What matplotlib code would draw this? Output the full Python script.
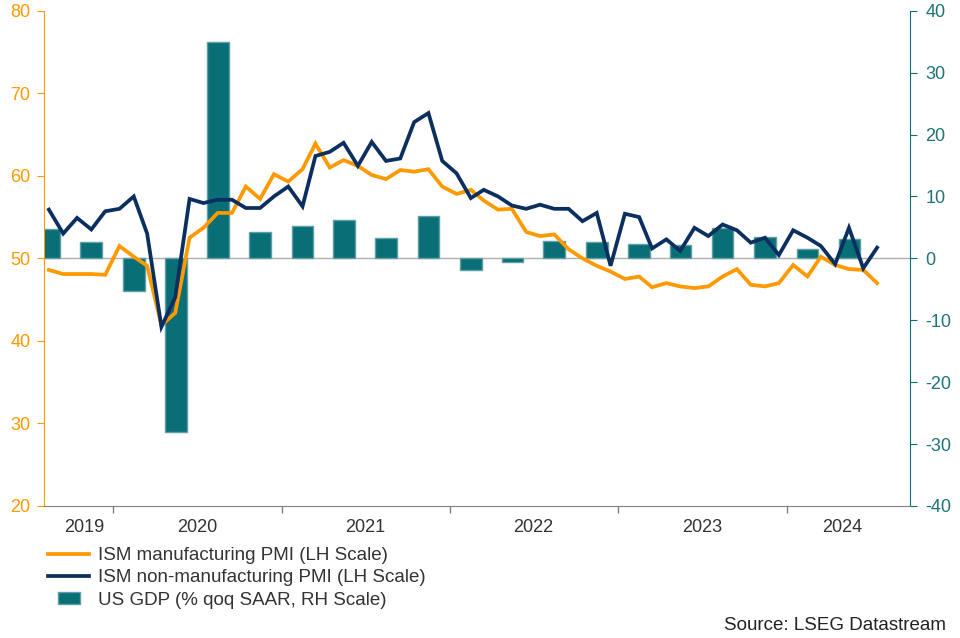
import pandas as pd
import numpy as np
import matplotlib
matplotlib.use("Agg")
import matplotlib.pyplot as plt
from matplotlib.lines import Line2D

plt.rcParams['font.family'] = ['Liberation Sans', 'DejaVu Sans']
plt.rcParams['axes.unicode_minus'] = False

# Monthly ISM readings, Aug 2019 - Jul 2024
ism_manufacturing = [
    48.6, 48.1, 48.1, 48.1, 48.0,
    51.5, 50.2, 49.1, 41.9, 43.4, 52.5, 53.7, 55.5, 55.5, 58.7, 57.2, 60.2,
    59.3, 60.8, 63.9, 61.0, 61.9, 61.2, 60.1, 59.6, 60.7, 60.5, 60.8, 58.7,
    57.8, 58.3, 57.0, 55.9, 56.0, 53.2, 52.7, 52.9, 51.1, 50.0, 49.1, 48.4,
    47.5, 47.8, 46.5, 47.0, 46.6, 46.4, 46.6, 47.8, 48.7, 46.8, 46.6, 47.0,
    49.2, 47.8, 50.2, 49.2, 48.7, 48.6, 47.0,
]
ism_services = [
    55.9, 53.0, 54.9, 53.5, 55.7,
    56.0, 57.5, 53.0, 41.7, 45.3, 57.2, 56.7, 57.1, 57.1, 56.1, 56.1, 57.5,
    58.7, 56.3, 62.4, 62.9, 64.0, 61.2, 64.1, 61.8, 62.1, 66.5, 67.6, 61.8,
    60.3, 57.3, 58.3, 57.5, 56.4, 56.0, 56.5, 56.0, 56.0, 54.5, 55.5, 49.1,
    55.4, 55.0, 51.2, 52.3, 50.9, 53.7, 52.7, 54.1, 53.4, 51.9, 52.5, 50.4,
    53.4, 52.5, 51.5, 49.3, 53.7, 48.8, 51.3,
]
# Quarterly GDP, Q3 2019 - Q2 2024
us_gdp = [4.7, 2.6, -5.3, -28.0, 34.9, 4.2, 5.2, 6.2, 3.3, 6.9,
          -1.9, -0.6, 2.8, 2.6, 2.3, 2.1, 4.9, 3.4, 1.5, 3.1]

years = ['2019', '2020', '2021', '2022', '2023', '2024']
year_label_dates = pd.to_datetime(['2019-10-30', '2020-07-01', '2021-07-01',
                                   '2022-07-01', '2023-07-01', '2024-05-01'])

months = pd.date_range('2019-08-01', periods=len(ism_manufacturing), freq='MS') + pd.Timedelta(days=14)
quarters = pd.date_range('2019-07-01', periods=len(us_gdp), freq='QS') + pd.Timedelta(days=45)

orange = '#FF9900'
navy = '#0B2F5F'
teal = '#0A6E76'
teal_txt = '#1E7479'

fig = plt.figure(figsize=(9.6, 6.38), dpi=100)
ax = fig.add_axes([44.3 / 960, 1 - 506 / 638, (910.3 - 44.3) / 960, (506 - 10.7) / 638])
ax2 = ax.twinx()
ax.set_zorder(ax2.get_zorder() + 1)
ax.patch.set_visible(False)

ax2.axhline(0, color='#b0b0b0', lw=1, zorder=1)
ax2.bar(quarters, us_gdp, width=47, color=teal, edgecolor='#5E9FA4', linewidth=1, zorder=2)
ax.plot(months, ism_manufacturing, color=orange, lw=2.7, solid_joinstyle='miter')
ax.plot(months, ism_services, color=navy, lw=2.7, solid_joinstyle='miter')

ax.set_ylim(20, 80)
ax2.set_ylim(-40, 40)
ax.set_xlim(pd.Timestamp('2019-08-05'), pd.Timestamp('2024-09-25'))
ax.set_yticks(range(20, 81, 10))
ax2.set_yticks(range(-40, 41, 10))

ax.set_xticks(pd.to_datetime(['2020-01-01', '2021-01-01', '2022-01-01', '2023-01-01', '2024-01-01']))
ax.set_xticklabels([])
ax.set_xticks(year_label_dates, labels=years, minor=True)
ax.tick_params(axis='x', which='major', length=5, color='#808080', width=1)
ax.tick_params(axis='x', which='minor', length=0, pad=9, labelsize=13, labelcolor='#333333')
ax.tick_params(axis='y', length=5, color=orange, labelcolor=orange, labelsize=13, pad=5)
ax2.tick_params(axis='y', length=5, color=teal, labelcolor=teal_txt, labelsize=13, pad=6)

for a in (ax, ax2):
    a.spines['top'].set_visible(False)
ax.spines['right'].set_visible(False)
ax2.spines['left'].set_visible(False)
ax2.spines['bottom'].set_visible(False)
ax.spines['left'].set_color(orange)
ax.spines['bottom'].set_color('#808080')
ax2.spines['right'].set_color(teal)

box = [(-1, -0.55), (1, -0.55), (1, 0.55), (-1, 0.55), (-1, -0.55)]
handles = [
    Line2D([], [], color=orange, lw=2.7),
    Line2D([], [], color=navy, lw=2.7),
    Line2D([], [], linestyle='none', marker=box, markersize=15.6,
           markerfacecolor=teal, markeredgecolor='#5E9FA4'),
]
labels = ['ISM manufacturing PMI (LH Scale)',
          'ISM non-manufacturing PMI (LH Scale)',
          'US GDP (% qoq SAAR, RH Scale)']
fig.legend(handles, labels, loc='upper left', bbox_to_anchor=(48 / 960, 1 - 547 / 638),
           frameon=False, fontsize=13.5, handlelength=2.2, handletextpad=0.45,
           labelspacing=0.28, borderpad=0, borderaxespad=0, labelcolor='#333333')

fig.text(946 / 960, 1 - 625 / 638, 'Source: LSEG Datastream', ha='right', va='center',
         fontsize=13.5, color='#222222')

fig.savefig('out.png', dpi=100)
